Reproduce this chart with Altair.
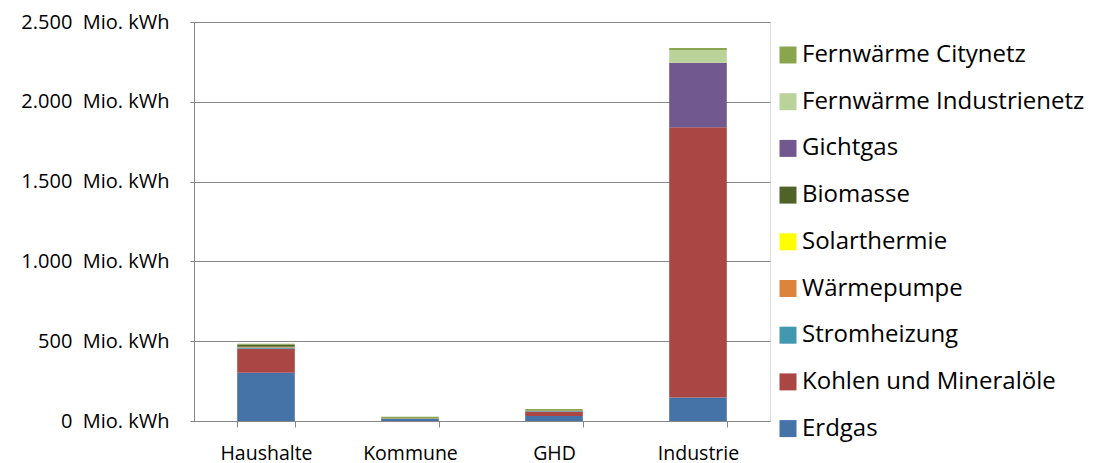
import altair as alt
import pandas as pd

categories = ["Haushalte", "Kommune", "GHD", "Industrie"]
series = ["Erdgas", "Kohlen und Mineralöle", "Stromheizung", "Wärmepumpe",
          "Solarthermie", "Biomasse", "Gichtgas", "Fernwärme Industrienetz",
          "Fernwärme Citynetz"]
colors = ["#4572A7", "#AA4643", "#4198AF", "#DB843D", "#FFFF00", "#4F6228",
          "#71588F", "#B9D39A", "#89A54E"]

erdgas = [303, 14, 32, 148]
kohlen = [150, 2, 28, 1692]
strom = [8, 0, 3, 0]
waermepumpe = [2, 0, 0, 0]
solar = [2, 0, 0, 0]
biomasse = [12, 0, 2, 0]
gichtgas = [0, 0, 0, 405]
industrienetz = [0, 0, 0, 80]
citynetz = [7, 11, 10, 12]

values = [erdgas, kohlen, strom, waermepumpe, solar, biomasse, gichtgas,
          industrienetz, citynetz]

rows = []
for si, (s, vals) in enumerate(zip(series, values)):
    for c, v in zip(categories, vals):
        rows.append({"Sektor": c, "Energieträger": s, "Wert": v, "idx": si})
df = pd.DataFrame(rows)

FONT = "Open Sans"
grey = "#868686"

chart = alt.Chart(df).mark_bar().encode(
    x=alt.X("Sektor:N", sort=categories, title=None,
            scale=alt.Scale(paddingInner=0.6, paddingOuter=0.3),
            axis=alt.Axis(labelAngle=0, labelFontSize=19.5, labelColor="#000000",
                          labelFont=FONT, tickBand="extent", tickSize=6,
                          tickColor=grey, domainColor=grey, labelPadding=17,
                          grid=False)),
    y=alt.Y("Wert:Q", stack="zero", title=None,
            scale=alt.Scale(domain=[0, 2500], nice=False),
            axis=alt.Axis(values=[0, 500, 1000, 1500, 2000, 2500],
                          labelExpr="replace(format(datum.value, ','), ',', '.') + '\u00a0\u00a0Mio.\u00a0kWh'",
                          labelFontSize=20, labelColor="#000000", labelFont=FONT,
                          tickSize=4, tickColor=grey, domainColor=grey,
                          gridColor=grey, gridWidth=1, labelPadding=21)),
    color=alt.Color("Energieträger:N",
                    scale=alt.Scale(domain=series[::-1], range=colors[::-1]),
                    legend=alt.Legend(title=None, orient="none", legendX=582,
                                      legendY=21, symbolType="square",
                                      symbolSize=289, symbolStrokeWidth=0,
                                      labelFontSize=24, labelFont=FONT,
                                      labelColor="#000000", rowPadding=22.7,
                                      labelOffset=2, labelLimit=400)),
    order=alt.Order("idx:Q", sort="ascending"),
).properties(
    width=576, height=399,
    autosize=alt.AutoSizeParams(type="none"),
    padding={"left": 186, "top": 14, "right": 325, "bottom": 50},
).configure_view(stroke=None).configure(background="#ffffff")

chart.save("out.html", embed_options={"renderer": "svg", "actions": False})
